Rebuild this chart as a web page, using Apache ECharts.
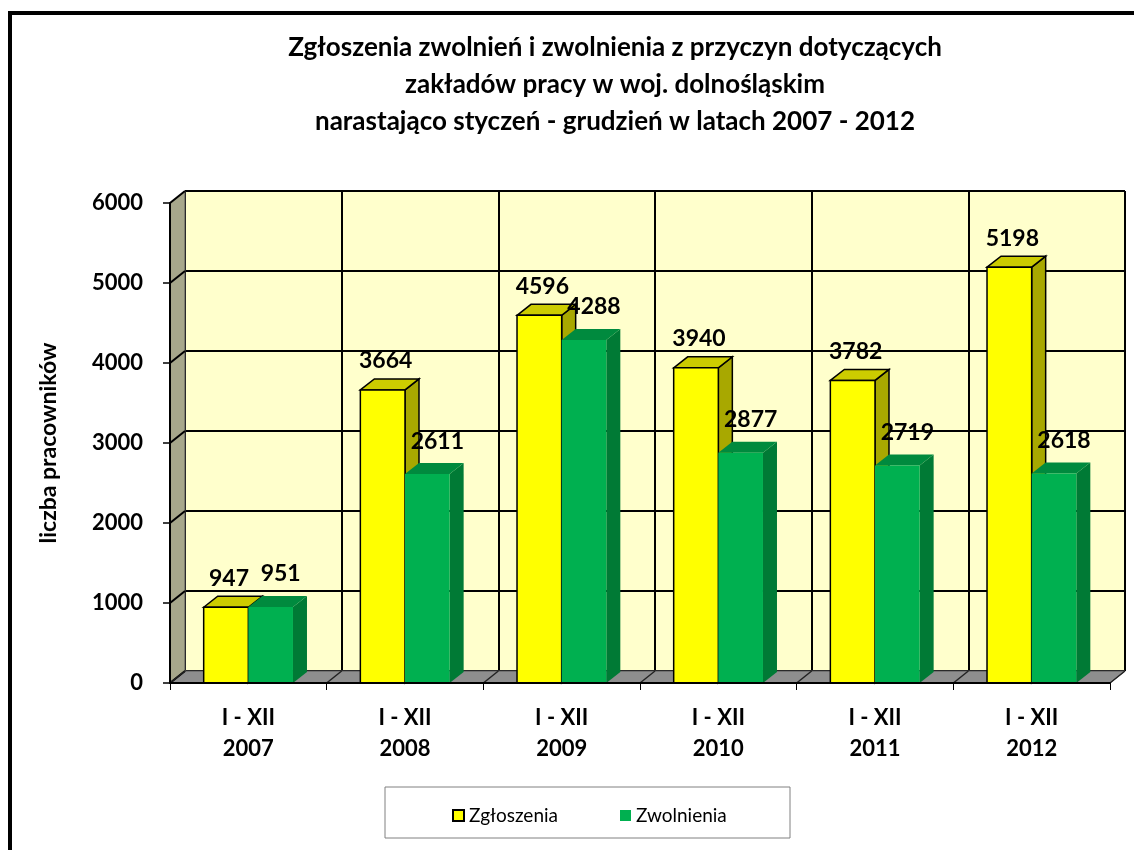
<!DOCTYPE html>
<html>
<head>
<meta charset="utf-8">
<script src="https://cdn.jsdelivr.net/npm/echarts@6/dist/echarts.min.js"></script>
<style>
    html, body { margin: 0; padding: 0; background: #fff; }
    #chart { width: 1134px; height: 850px; }
</style>
</head>
<body>
<div id="chart"></div>
<script>
    // dane
    var categories = ['I - XII\n2007', 'I - XII\n2008', 'I - XII\n2009', 'I - XII\n2010', 'I - XII\n2011', 'I - XII\n2012'];
    var zgloszenia = [947, 3664, 4596, 3940, 3782, 5198];
    var zwolnienia = [951, 2611, 4288, 2877, 2719, 2618];
    var yTicks = [0, 1000, 2000, 3000, 4000, 5000, 6000];

    var FONT = 'Lato, "DejaVu Sans", sans-serif';
    var DX = 15, DY = 12;      // głębokość ścian
    var BX = 14, BY = 11;      // głębokość słupków

    var chart = echarts.init(document.getElementById('chart'));

    // ściana lewa i podłoga
    function renderWalls(params, api) {
        var band = api.size([1, 0])[0];
        var x0 = api.coord([0, 0])[0] - band / 2;
        var x1 = x0 + band * categories.length;
        var yB = api.coord([0, yTicks[0]])[1];
        var yT = api.coord([0, yTicks[yTicks.length - 1]])[1];
        var children = [];
        children.push({
            type: 'polygon',
            shape: {points: [[x0, yT], [x0, yB], [x0 + DX, yB - DY], [x0 + DX, yT - DY]]},
            style: {fill: '#A7A78B', stroke: '#555', lineWidth: 1}
        });
        children.push({
            type: 'polygon',
            shape: {points: [[x0, yB], [x1, yB], [x1 + DX, yB - DY], [x0 + DX, yB - DY]]},
            style: {fill: '#8E8E8E', stroke: '#555', lineWidth: 1}
        });
        yTicks.forEach(function (t) {
            var y = api.coord([0, t])[1];
            children.push({
                type: 'line',
                shape: {x1: x0, y1: y, x2: x0 + DX, y2: y - DY},
                style: {stroke: '#000', lineWidth: 2}
            });
        });
        for (var k = 0; k <= categories.length; k++) {
            var x = x0 + k * band;
            children.push({
                type: 'line',
                shape: {x1: x, y1: yB, x2: x + DX, y2: yB - DY},
                style: {stroke: '#222', lineWidth: 1.5}
            });
        }
        return {type: 'group', children: children};
    }

    function makeBarRenderer(side, colors, lx, ly) {
        return function (params, api) {
            var idx = api.value(0);
            var val = api.value(1);
            var band = api.size([1, 0])[0];
            var w = band * 0.285;
            var c = api.coord([idx, val]);
            var base = api.coord([idx, 0]);
            var xl = side === 0 ? c[0] - w : c[0];
            var xr = xl + w;
            var yt = c[1], yb = base[1];
            var stroke = colors.stroke;
            var lw = stroke ? 1.5 : 0;
            return {
                type: 'group',
                children: [
                    {
                        type: 'polygon',
                        shape: {points: [[xr, yt], [xr + BX, yt - BY], [xr + BX, yb - BY], [xr, yb]]},
                        style: {fill: colors.side, stroke: stroke || null, lineWidth: lw}
                    },
                    {
                        type: 'polygon',
                        shape: {points: [[xl, yt], [xl + BX, yt - BY], [xr + BX, yt - BY], [xr, yt]]},
                        style: {fill: colors.top, stroke: stroke || null, lineWidth: lw}
                    },
                    {
                        type: 'rect',
                        shape: {x: xl, y: yt, width: w, height: yb - yt},
                        style: {fill: colors.front, stroke: stroke || null, lineWidth: lw}
                    },
                    {
                        type: 'text',
                        style: {
                            text: String(val),
                            x: (xl + xr) / 2 + lx,
                            y: yt + ly,
                            align: 'center',
                            verticalAlign: 'middle',
                            fill: '#000',
                            fontSize: 23,
                            fontWeight: 'bold',
                            fontFamily: FONT
                        }
                    }
                ]
            };
        };
    }

    var option = {
        animation: false,
        backgroundColor: '#fff',
        graphic: [
            {
                type: 'rect',
                shape: {x: 10, y: 13, width: 1200, height: 900},
                style: {fill: null, stroke: '#000', lineWidth: 4},
                z: 0
            },
            {
                type: 'text',
                x: 615,
                y: 85,
                style: {
                    text: 'Zgłoszenia zwolnień i zwolnienia z przyczyn dotyczących\nzakładów pracy w woj. dolnośląskim\nnarastająco styczeń - grudzień w latach 2007 - 2012',
                    align: 'center',
                    verticalAlign: 'middle',
                    lineHeight: 37,
                    fill: '#000',
                    fontSize: 26,
                    fontWeight: 'bold',
                    fontFamily: FONT
                }
            },
            {
                type: 'rect',
                shape: {x: 385, y: 787, width: 405, height: 51},
                style: {fill: '#fff', stroke: '#808080', lineWidth: 1},
                z: 0
            }
        ],
        legend: {
            left: 447,
            top: 801,
            icon: 'rect',
            itemWidth: 11,
            itemHeight: 11,
            itemGap: 62,
            textStyle: {fontSize: 19, fontFamily: FONT, color: '#000'},
            data: [
                {name: 'Zgłoszenia', itemStyle: {borderColor: '#000', borderWidth: 2}},
                {name: 'Zwolnienia'}
            ]
        },
        grid: [
            {left: 170, top: 203, width: 940, height: 480},
            {left: 185, top: 191, width: 940, height: 480, show: true, backgroundColor: '#FFFFCC', borderWidth: 0}
        ],
        xAxis: [
            {
                type: 'category',
                gridIndex: 0,
                data: categories,
                axisLine: {lineStyle: {color: '#000', width: 2}},
                axisTick: {show: true, length: 7, lineStyle: {color: '#000', width: 1}},
                axisLabel: {
                    margin: 19,
                    color: '#000',
                    fontSize: 22,
                    fontWeight: 'bold',
                    fontFamily: FONT,
                    lineHeight: 31
                },
                splitLine: {show: false},
                z: 5
            },
            {
                type: 'value',
                gridIndex: 1,
                min: 0,
                max: 6,
                interval: 1,
                axisLine: {show: false},
                axisTick: {show: false},
                axisLabel: {show: false},
                splitLine: {show: true, lineStyle: {color: '#000', width: 2}}
            }
        ],
        yAxis: [
            {
                type: 'value',
                gridIndex: 0,
                min: 0,
                max: 6000,
                interval: 1000,
                name: 'liczba pracowników',
                nameLocation: 'middle',
                nameRotate: 90,
                nameGap: 110,
                nameTextStyle: {color: '#000', fontSize: 23, fontWeight: 'bold', fontFamily: FONT},
                axisLine: {show: true, lineStyle: {color: '#000', width: 2}},
                axisTick: {show: true, length: 7, lineStyle: {color: '#000', width: 1.5}},
                axisLabel: {
                    margin: 27,
                    color: '#000',
                    fontSize: 22,
                    fontWeight: 'bold',
                    fontFamily: FONT,
                    formatter: function (v) { return String(v); }
                },
                splitLine: {show: false},
                z: 5
            },
            {
                type: 'value',
                gridIndex: 1,
                min: 0,
                max: 6000,
                interval: 1000,
                axisLine: {show: false},
                axisTick: {show: false},
                axisLabel: {show: false},
                splitLine: {show: true, lineStyle: {color: '#000', width: 2}}
            }
        ],
        series: [
            {
                type: 'custom',
                name: 'walls',
                xAxisIndex: 0,
                yAxisIndex: 0,
                data: [[0, 0]],
                renderItem: renderWalls,
                silent: true,
                z: 1
            },
            {
                type: 'custom',
                name: 'Zgłoszenia',
                xAxisIndex: 0,
                yAxisIndex: 0,
                itemStyle: {color: '#FFFF00'},
                data: zgloszenia.map(function (v, i) { return [i, v]; }),
                renderItem: makeBarRenderer(0, {front: '#FFFF00', top: '#CCCC00', side: '#A8A800', stroke: '#000'}, 3, -29),
                z: 3
            },
            {
                type: 'custom',
                name: 'Zwolnienia',
                xAxisIndex: 0,
                yAxisIndex: 0,
                itemStyle: {color: '#00B050'},
                data: zwolnienia.map(function (v, i) { return [i, v]; }),
                renderItem: makeBarRenderer(1, {front: '#00B050', top: '#008A3E', side: '#007A35'}, 10, -33),
                z: 4
            }
        ]
    };

    chart.setOption(option);
</script>
</body>
</html>
